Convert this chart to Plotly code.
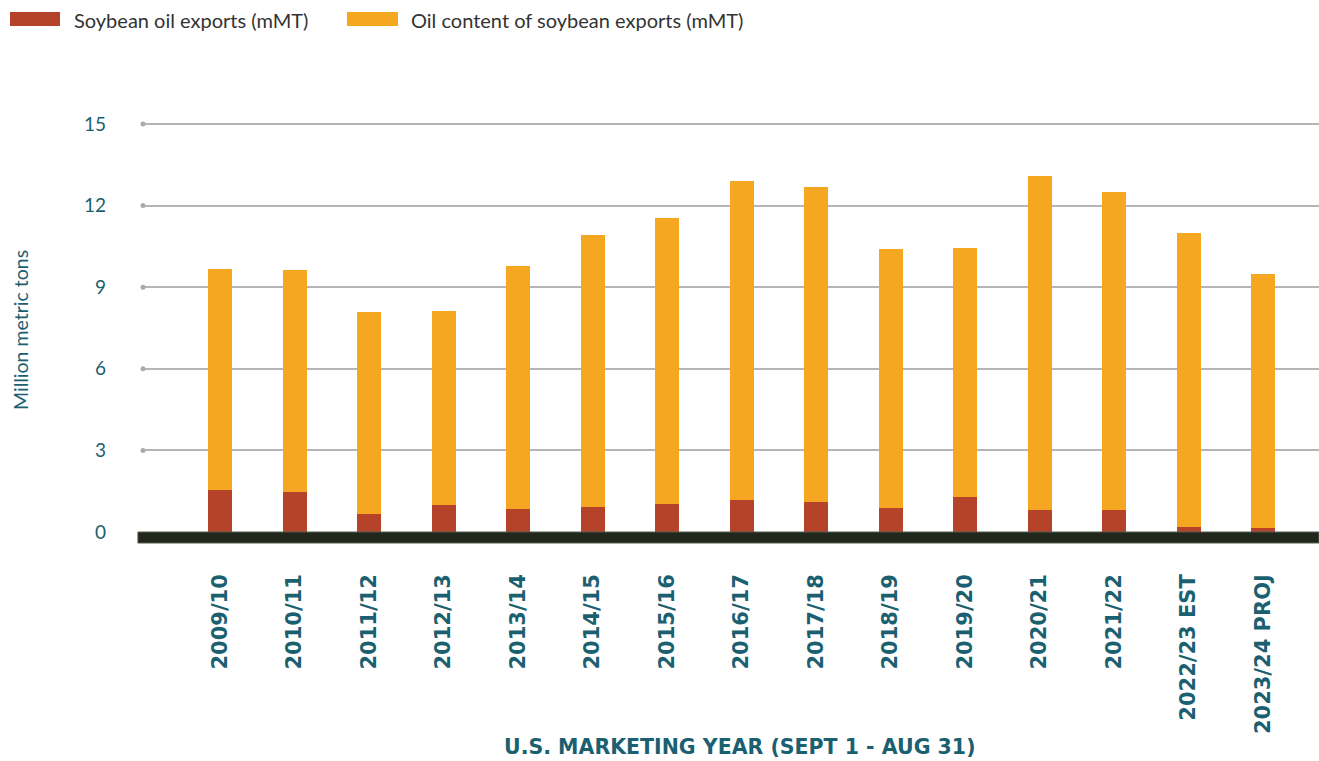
import plotly.graph_objects as go

categories = ["2009/10", "2010/11", "2011/12", "2012/13", "2013/14", "2014/15",
              "2015/16", "2016/17", "2017/18", "2018/19", "2019/20", "2020/21",
              "2021/22", "2022/23 EST", "2023/24 PROJ"]
soybean_oil_exports = [1.54, 1.46, 0.66, 0.99, 0.84, 0.91, 1.02, 1.17, 1.10,
                       0.88, 1.28, 0.80, 0.80, 0.18, 0.15]
oil_content_soybean_exports = [8.12, 8.17, 7.43, 7.14, 8.93, 9.99, 10.54, 11.75,
                               11.60, 9.51, 9.15, 12.30, 11.68, 10.80, 9.33]
y_ticks = [0, 3, 6, 9, 12, 15]

RED = "#b5432a"
ORANGE = "#f6a721"
TEAL = "#1b6070"
BODY_FONT = "Lato"
HEAVY_FONT = "DejaVu Sans"

fig = go.Figure()
fig.add_trace(go.Bar(x=categories, y=soybean_oil_exports, name="Soybean oil exports (mMT)",
                     marker=dict(color=RED, line=dict(width=0)), width=0.322))
fig.add_trace(go.Bar(x=categories, y=oil_content_soybean_exports,
                     name="Oil content of soybean exports (mMT)",
                     marker=dict(color=ORANGE, line=dict(width=0)), width=0.322))

shapes = []
# dark baseline bar
shapes.append(dict(type="rect", xref="paper", yref="paper", x0=-0.0043, x1=1.0,
                   ysizemode="pixel", yanchor=0, y0=-11, y1=0,
                   fillcolor="#22271c", line=dict(color="#555a50", width=1), layer="above"))
# dots at left end of gridlines
for v in y_ticks[1:]:
    shapes.append(dict(type="circle", xref="paper", yref="y",
                       xsizemode="pixel", xanchor=0, x0=-2.5, x1=2.5,
                       ysizemode="pixel", yanchor=v, y0=-2.5, y1=2.5,
                       fillcolor="#aaaaaa", line=dict(width=0), layer="above"))
# manual legend swatches
W = 1176.0
H = 432.0
def px_x(p):
    return (p - 143) / W
def px_y(p):
    return (532 - p) / H
shapes.append(dict(type="rect", xref="paper", yref="paper", x0=px_x(10), x1=px_x(60),
                   y0=px_y(26), y1=px_y(12), fillcolor=RED, line=dict(width=0)))
shapes.append(dict(type="rect", xref="paper", yref="paper", x0=px_x(347), x1=px_x(398),
                   y0=px_y(26), y1=px_y(12), fillcolor=ORANGE, line=dict(width=0)))

annotations = [
    dict(text="Soybean oil exports (mMT)", xref="paper", yref="paper", x=px_x(72), y=px_y(20),
         xanchor="left", yanchor="middle", showarrow=False,
         font=dict(family=BODY_FONT, size=20, color="#333333")),
    dict(text="Oil content of soybean exports (mMT)", xref="paper", yref="paper", x=px_x(409),
         y=px_y(20), xanchor="left", yanchor="middle", showarrow=False,
         font=dict(family=BODY_FONT, size=20, color="#333333")),
    dict(text="Million metric tons", xref="paper", yref="paper", x=px_x(20), y=px_y(330),
         xanchor="center", yanchor="middle", textangle=-90, showarrow=False,
         font=dict(family=BODY_FONT, size=19.5, color=TEAL)),
    dict(text="U.S. MARKETING YEAR (SEPT 1 - AUG 31)", xref="paper", yref="paper",
         x=px_x(740), y=px_y(747), xanchor="center", yanchor="middle", showarrow=False,
         font=dict(family=HEAVY_FONT, size=20.5, color=TEAL, weight="bold")),
]

fig.update_layout(
    barmode="stack",
    width=1319, height=761,
    margin=dict(l=143, r=0, t=100, b=229, pad=0),
    plot_bgcolor="white", paper_bgcolor="white",
    showlegend=False,
    shapes=shapes,
    annotations=annotations,
    xaxis=dict(type="category", range=[-1.034, 14.75], showgrid=False, zeroline=False,
               showline=False, ticks="", tickangle=-90, ticklabelstandoff=37,
               tickfont=dict(family=HEAVY_FONT, size=21, color=TEAL, weight="bold")),
    yaxis=dict(range=[0, 15.88], tickvals=y_ticks, showgrid=True, gridcolor="#b5b5b5",
               gridwidth=1.5, zeroline=False, showline=False, ticks="",
               ticklabelstandoff=36,
               tickfont=dict(family=BODY_FONT, size=19, color=TEAL)),
)

fig.write_html("out.html", config={"displayModeBar": False},
               post_script="document.body.style.margin='0';document.body.style.overflow='hidden';")
